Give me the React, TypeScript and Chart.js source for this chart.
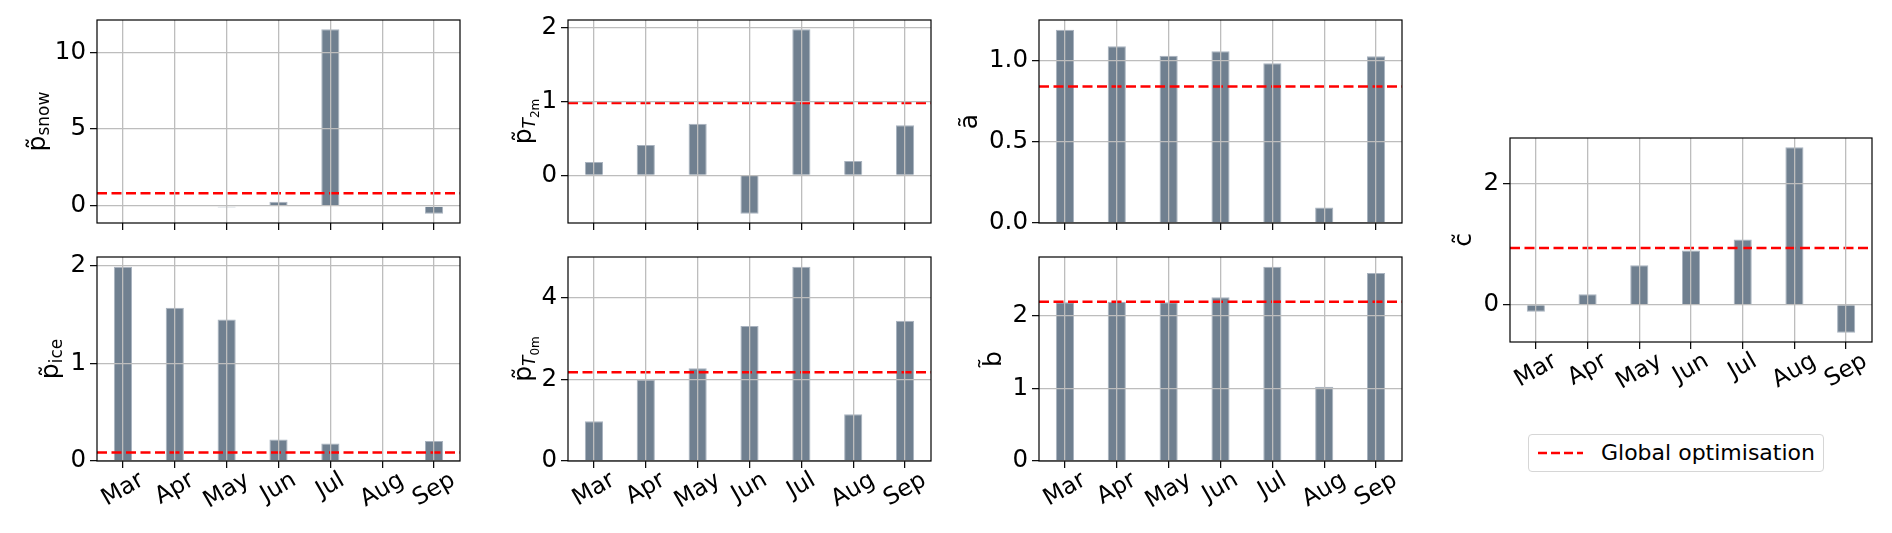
import { useEffect, useRef } from 'react';
import { Chart, Plugin, registerables } from 'chart.js';

Chart.register(...registerables);

const FONT = "'DejaVu Sans', sans-serif";
Chart.defaults.font.family = FONT;

const months = ['Mar', 'Apr', 'May', 'Jun', 'Jul', 'Aug', 'Sep'];

// monthly optimised parameters
const pSnow = [0, 0, -0.09, 0.28, 11.49, 0, -0.5];
const pIce = [1.99, 1.57, 1.45, 0.22, 0.18, 0, 0.205];
const pT2m = [0.18, 0.41, 0.7, -0.52, 1.98, 0.195, 0.68];
const pT0m = [0.97, 1.99, 2.27, 3.3, 4.75, 1.14, 3.43];
const aVals = [1.19, 1.088, 1.03, 1.057, 0.983, 0.096, 1.026];
const bVals = [2.18, 2.19, 2.18, 2.25, 2.67, 1.02, 2.585];
const cVals = [-0.116, 0.17, 0.65, 0.895, 1.078, 2.6, -0.464];

// global optimisation values (red dashed line)
const gSnow = 0.84;
const gIce = 0.086;
const gT2m = 0.98;
const gT0m = 2.17;
const gA = 0.84;
const gB = 2.19;
const gC = 0.934;

// y tick values
const snowTicks = [0, 5, 10];
const iceTicks = [0, 1, 2];
const t2mTicks = [0, 1, 2];
const t0mTicks = [0, 2, 4];
const aTicks = [0, 0.5, 1];
const bTicks = [0, 1, 2];
const cTicks = [0, 2];

const BAR = '#708090';
const BAR_EDGE = '#a9b3bf';
const GRID = '#bdbdbd';
const Y_AXIS_W = 95;
const PAD_TOP = 20;
const PAD_RIGHT = 10;

type Part = { text: string; size: number; dy: number; italic?: boolean };

const MAIN = 25;
const SUB = 17;
const SUBSUB = 12;

const tildeP: Part = { text: 'p\u0303', size: MAIN, dy: 0 };

// matplotlib-like autoscale: 5% margin, sticky at zero for bars
function paddedRange(values: number[]) {
  const lo = Math.min(0, ...values);
  const hi = Math.max(0, ...values);
  const span = hi - lo;
  return {
    min: lo < 0 ? lo - 0.05 * span : 0,
    max: hi > 0 ? hi + 0.05 * span : 0,
  };
}

interface PanelProps {
  values: number[];
  globalValue: number;
  ticks: number[];
  decimals?: number;
  label: Part[];
  labelX: number;
  plotLeft: number;
  plotTop: number;
  plotWidth: number;
  plotHeight: number;
  showMonths: boolean;
}

function Panel({
  values,
  globalValue,
  ticks,
  decimals = 0,
  label,
  labelX,
  plotLeft,
  plotTop,
  plotWidth,
  plotHeight,
  showMonths,
}: PanelProps) {
  const chartRef = useRef<HTMLCanvasElement>(null);
  const chartInstance = useRef<Chart | null>(null);

  const xH = showMonths ? 75 : 20;
  const left = plotLeft - Y_AXIS_W;
  const top = plotTop - PAD_TOP;
  const width = Y_AXIS_W + plotWidth + PAD_RIGHT;
  const height = PAD_TOP + plotHeight + xH;

  useEffect(() => {
    if (!chartRef.current) return;
    if (chartInstance.current) chartInstance.current.destroy();

    const { min, max } = paddedRange(values);

    const frame: Plugin = {
      id: 'frame',
      afterDraw(chart) {
        const { ctx, chartArea: a } = chart;
        ctx.save();
        ctx.strokeStyle = '#000';
        ctx.lineWidth = 1.2;
        ctx.strokeRect(a.left, a.top, a.right - a.left, a.bottom - a.top);
        ctx.restore();
      },
    };

    const yTitle: Plugin = {
      id: 'yTitle',
      afterDraw(chart) {
        const { ctx, chartArea: a } = chart;
        const fontOf = (p: Part) => `${p.italic ? 'italic ' : ''}${p.size}px ${FONT}`;
        ctx.save();
        const widths = label.map((p) => {
          ctx.font = fontOf(p);
          return ctx.measureText(p.text).width;
        });
        const total = widths.reduce((s, w) => s + w, 0);
        ctx.translate(labelX - left, (a.top + a.bottom) / 2);
        ctx.rotate(-Math.PI / 2);
        ctx.fillStyle = '#000';
        ctx.textAlign = 'left';
        ctx.textBaseline = 'alphabetic';
        let x = -total / 2;
        label.forEach((p, i) => {
          ctx.font = fontOf(p);
          ctx.fillText(p.text, x, p.dy);
          x += widths[i];
        });
        ctx.restore();
      },
    };

    const monthLabels: Plugin = {
      id: 'monthLabels',
      afterDraw(chart) {
        if (!showMonths) return;
        const { ctx, chartArea: a } = chart;
        const xs = chart.scales.x;
        const size = 23.5;
        const ang = Math.PI / 6;
        ctx.save();
        ctx.font = `${size}px ${FONT}`;
        ctx.fillStyle = '#000';
        ctx.textAlign = 'center';
        ctx.textBaseline = 'middle';
        months.forEach((m, i) => {
          const w = ctx.measureText(m).width;
          const boxH = w * Math.sin(ang) + 0.75 * size * Math.cos(ang);
          ctx.save();
          ctx.translate(xs.getPixelForTick(i), a.bottom + 10 + boxH / 2);
          ctx.rotate(-ang);
          ctx.fillText(m, 0, 0);
          ctx.restore();
        });
        ctx.restore();
      },
    };

    const gridOpts = {
      color: GRID,
      lineWidth: 1.3,
      z: 1,
      drawTicks: true,
      tickLength: 7,
      tickColor: '#000',
      tickWidth: 1.2,
    };

    chartInstance.current = new Chart(chartRef.current, {
      type: 'bar',
      data: {
        labels: months,
        datasets: [
          {
            type: 'line',
            label: 'Global optimisation',
            data: [
              { x: -0.5, y: globalValue },
              { x: 6.5, y: globalValue },
            ],
            xAxisID: 'xg',
            borderColor: '#ff0000',
            borderWidth: 2.5,
            borderDash: [10, 4.5],
            pointRadius: 0,
            order: 0,
          },
          {
            type: 'bar',
            label: 'monthly',
            data: values,
            backgroundColor: BAR,
            borderColor: BAR_EDGE,
            borderWidth: 1,
            barPercentage: 0.35,
            categoryPercentage: 1,
            grouped: false,
            order: 1,
          },
        ] as any,
      },
      options: {
        animation: false,
        responsive: true,
        maintainAspectRatio: false,
        events: [],
        layout: { padding: { top: PAD_TOP, right: PAD_RIGHT, left: 0, bottom: 0 } },
        plugins: {
          legend: { display: false },
          tooltip: { enabled: false },
        },
        scales: {
          x: {
            type: 'category',
            offset: true,
            grid: { ...gridOpts, offset: false },
            border: { display: false },
            ticks: { display: false },
            afterFit: (s: any) => {
              s.height = xH;
            },
          },
          xg: {
            type: 'linear',
            display: false,
            offset: false,
            min: -0.5,
            max: 6.5,
          },
          y: {
            type: 'linear',
            min,
            max,
            grid: gridOpts,
            border: { display: false },
            afterBuildTicks: (s: any) => {
              s.ticks = ticks.map((v) => ({ value: v }));
            },
            ticks: {
              color: '#000',
              padding: 4,
              font: { family: FONT, size: 24.5 },
              callback: (v: any) => Number(v).toFixed(decimals),
            },
            afterFit: (s: any) => {
              s.width = Y_AXIS_W;
            },
          },
        } as any,
      },
      plugins: [frame, yTitle, monthLabels],
    });

    return () => {
      if (chartInstance.current) {
        chartInstance.current.destroy();
        chartInstance.current = null;
      }
    };
  }, [values, globalValue, ticks, decimals, label, labelX, left, xH, showMonths]);

  return (
    <div style={{ position: 'absolute', left, top, width, height }}>
      <canvas ref={chartRef} />
    </div>
  );
}

function Legend() {
  return (
    <div
      style={{
        position: 'absolute',
        left: 1528,
        top: 434,
        width: 294,
        height: 36,
        border: '1px solid #d6d6d6',
        borderRadius: 4,
        background: '#fff',
        boxSizing: 'content-box',
      }}
    >
      <svg width={60} height={36} style={{ position: 'absolute', left: 0, top: 0 }}>
        <line x1={9} y1={18} x2={54} y2={18} stroke="#ff0000" strokeWidth={2.5} strokeDasharray="9 4" />
      </svg>
      <span
        style={{
          position: 'absolute',
          left: 72,
          top: 0,
          lineHeight: '36px',
          fontFamily: FONT,
          fontSize: 22,
          color: '#000',
          whiteSpace: 'nowrap',
        }}
      >
        Global optimisation
      </span>
    </div>
  );
}

const snowLabel: Part[] = [tildeP, { text: 'snow', size: SUB, dy: 4 }];
const iceLabel: Part[] = [tildeP, { text: 'ice', size: SUB, dy: 4 }];
const t2mLabel: Part[] = [
  tildeP,
  { text: 'T', size: SUB, dy: 4, italic: true },
  { text: '2m', size: SUBSUB, dy: 8 },
];
const t0mLabel: Part[] = [
  tildeP,
  { text: 'T', size: SUB, dy: 4, italic: true },
  { text: '0m', size: SUBSUB, dy: 8 },
];
const aLabel: Part[] = [{ text: 'a\u0303', size: MAIN, dy: 0 }];
const bLabel: Part[] = [{ text: 'b\u0303', size: MAIN, dy: 0 }];
const cLabel: Part[] = [{ text: 'c\u0303', size: MAIN, dy: 0 }];

export default function App() {
  return (
    <div style={{ position: 'absolute', left: 0, top: 0, width: 1892, height: 533, background: '#fff', overflow: 'hidden' }}>
      <Panel values={pSnow} globalValue={gSnow} ticks={snowTicks} label={snowLabel} labelX={45}
        plotLeft={97} plotTop={20} plotWidth={363} plotHeight={203} showMonths={false} />
      <Panel values={pIce} globalValue={gIce} ticks={iceTicks} label={iceLabel} labelX={58}
        plotLeft={97} plotTop={257} plotWidth={363} plotHeight={204} showMonths />
      <Panel values={pT2m} globalValue={gT2m} ticks={t2mTicks} label={t2mLabel} labelX={531}
        plotLeft={568} plotTop={20} plotWidth={363} plotHeight={203} showMonths={false} />
      <Panel values={pT0m} globalValue={gT0m} ticks={t0mTicks} label={t0mLabel} labelX={531}
        plotLeft={568} plotTop={257} plotWidth={363} plotHeight={204} showMonths />
      <Panel values={aVals} globalValue={gA} ticks={aTicks} decimals={1} label={aLabel} labelX={977}
        plotLeft={1039} plotTop={20} plotWidth={363} plotHeight={203} showMonths={false} />
      <Panel values={bVals} globalValue={gB} ticks={bTicks} label={bLabel} labelX={1001}
        plotLeft={1039} plotTop={257} plotWidth={363} plotHeight={204} showMonths />
      <Panel values={cVals} globalValue={gC} ticks={cTicks} label={cLabel} labelX={1471}
        plotLeft={1510} plotTop={138} plotWidth={362} plotHeight={204} showMonths />
      <Legend />
    </div>
  );
}
